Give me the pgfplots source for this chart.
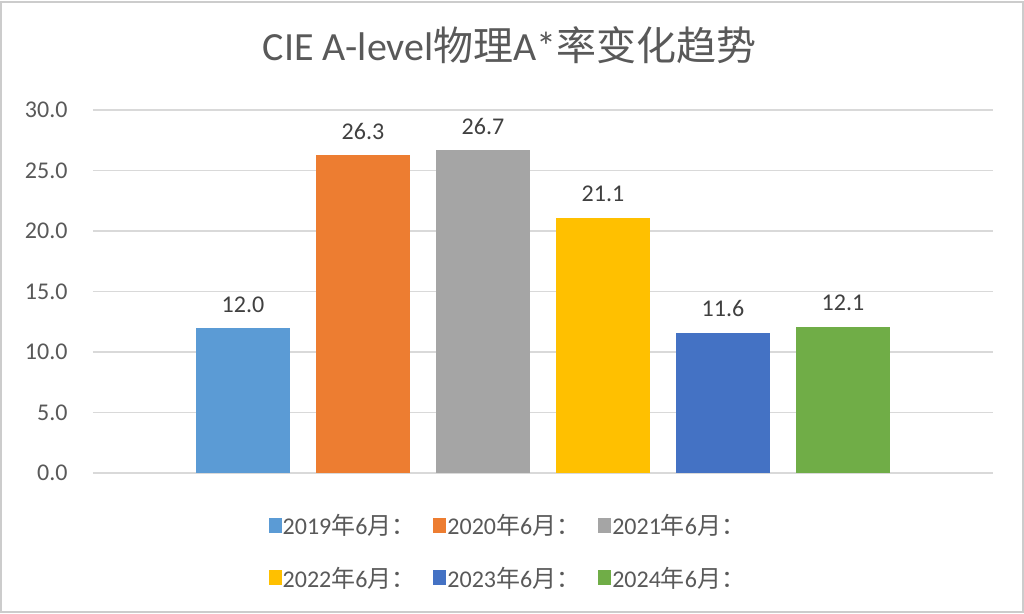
\documentclass[border=0pt]{standalone}
\usepackage{pgfplots}
\pgfplotsset{compat=1.18}
\usepackage{fontspec}
\setmainfont{Carlito}
\newfontfamily\cjk{Noto Sans CJK SC}
\definecolor{c19}{HTML}{5B9BD5}
\definecolor{c20}{HTML}{ED7D31}
\definecolor{c21}{HTML}{A5A5A5}
\definecolor{c22}{HTML}{FFC000}
\definecolor{c23}{HTML}{4472C4}
\definecolor{c24}{HTML}{70AD47}
\definecolor{txt}{HTML}{595959}
\definecolor{grid}{HTML}{D9D9D9}
\begin{document}
\begin{tikzpicture}
\useasboundingbox (-93bp,-141bp) rectangle (931bp,473bp);
\fill[white] (-93bp,-141bp) rectangle (931bp,473bp);
\draw[gray!40, line width=2bp] (-92bp,-139bp) rectangle (930bp,471bp);

\begin{axis}[
  at={(0,0)}, anchor=south west,
  scale only axis,
  width=900bp, height=363bp,
  xmin=-0.25, xmax=7.25,
  ymin=0, ymax=30,
  ytick={0,5,...,30},
  xtick=\empty,
  axis line style={draw=none},
  tick style={draw=none},
  ymajorgrids,
  major grid style={draw=grid, line width=1.5bp},
  yticklabel style={font=\fontsize{24bp}{26bp}\selectfont, text=txt, xshift=-22bp},
  /pgf/number format/assume math mode=true,
  /pgf/number format/.cd, fixed, fixed zerofill, precision=1, /pgfplots/.cd,
  ybar, bar width=94bp, bar shift=0pt,
  nodes near coords,
  nodes near coords style={font=\fontsize{24bp}{26bp}\selectfont, text=black!75, yshift=12bp,
    /pgf/number format/fixed, /pgf/number format/fixed zerofill, /pgf/number format/precision=1},
  title={CIE A-level{\cjk 物理}A*{\cjk 率变化趋势}},
  title style={font=\fontsize{40bp}{43bp}\selectfont, text=txt, at={(0.463,1)}, anchor=base, yshift=44bp},
  legend columns=3,
  legend style={at={(0.461,0)}, anchor=north, yshift=-37bp, draw=none, fill=none,
    font=\fontsize{24bp}{26bp}\selectfont, text=txt,
    /tikz/every even column/.append style={column sep=16bp},
    /tikz/every odd column/.append style={column sep=-1bp},
    row sep=27bp},
  legend image code/.code={\fill[#1,draw=none] (0bp,-7.5bp) rectangle (13bp,7.5bp);},
  legend cell align=left,
]
\addplot[fill=c19, draw=none] coordinates {(1,12.0)};
\addplot[fill=c20, draw=none] coordinates {(2,26.3)};
\addplot[fill=c21, draw=none] coordinates {(3,26.7)};
\addplot[fill=c22, draw=none] coordinates {(4,21.1)};
\addplot[fill=c23, draw=none] coordinates {(5,11.6)};
\addplot[fill=c24, draw=none] coordinates {(6,12.1)};
\legend{2019{\cjk 年}6{\cjk 月：}, 2020{\cjk 年}6{\cjk 月：}, 2021{\cjk 年}6{\cjk 月：},
        2022{\cjk 年}6{\cjk 月：}, 2023{\cjk 年}6{\cjk 月：}, 2024{\cjk 年}6{\cjk 月：}}
\end{axis}
\end{tikzpicture}
\end{document}
